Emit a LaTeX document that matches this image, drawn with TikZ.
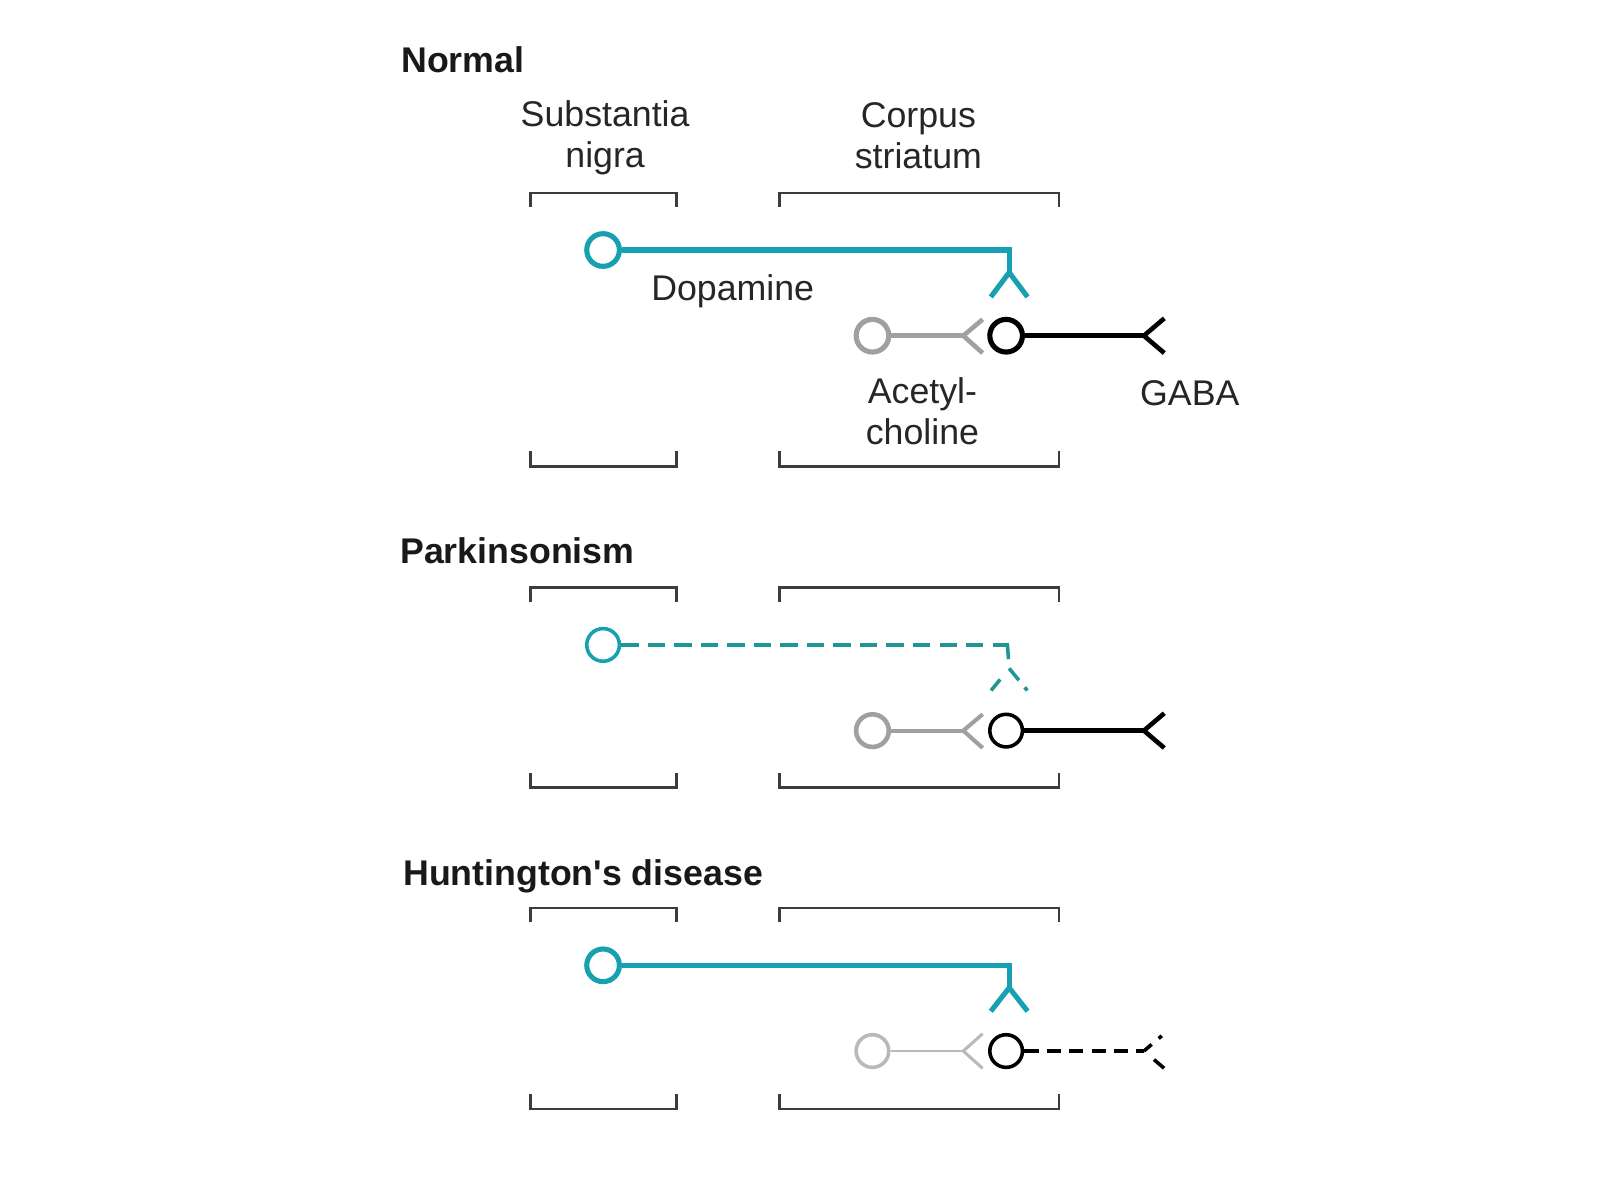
\documentclass[tikz,border=0pt]{standalone}
\usepackage{fontspec}
\setmainfont{Liberation Sans}
\definecolor{tealA}{RGB}{22,160,178}
\definecolor{tealB}{RGB}{30,150,150}
\definecolor{grayA}{RGB}{160,160,160}
\definecolor{grayB}{RGB}{185,185,185}
\definecolor{brkgray}{RGB}{60,60,60}
\begin{document}
\begin{tikzpicture}[x=1pt,y=-1pt,
  lab/.style={font=\fontsize{35}{41}\selectfont, inner sep=0pt, align=center, text=black!85},
  ttl/.style={font=\fontsize{35}{41}\selectfont\bfseries, inner sep=0pt, anchor=west, text=black!90},
  brk/.style={draw=brkgray, line width=2.5pt},
  soma/.style={circle, inner sep=0pt, minimum size=32pt},
  axon/.style={line width=#1, line cap=butt, line join=miter},
]
\useasboundingbox (0,0) rectangle (1568,1176);

% ---------------- Normal ----------------
\node[ttl] (tN) at (393,59) {Normal};
\node[lab] (lSN) at (593,135) {Substantia\\nigra};
\node[lab] (lCS) at (900,133) {Corpus\\striatum};
\draw[brk] (520,203) -- (520,189) -- (663,189) -- (663,203);
\draw[brk] (764,203) -- (764,189) -- (1038,189) -- (1038,203);
\draw[brk] (520,442) -- (520,457) -- (663,457) -- (663,442);
\draw[brk] (764,442) -- (764,457) -- (1038,457) -- (1038,442);

\node[soma, draw=tealA, line width=5pt] (d1) at (591,245) {};
\coordinate (d1c) at (989,245);
\coordinate (d1f) at (989,267);
\coordinate (d1l) at (971,291);
\coordinate (d1r) at (1007,291);
\draw[axon=5pt, draw=tealA] (d1) -- (d1c) -- (d1f);
\draw[axon=5pt, draw=tealA] (d1l) -- (d1f) -- (d1r);
\node[lab] (lDA) at (718,285) {Dopamine};

\node[soma, draw=grayA, line width=5pt] (a1) at (855,329) {};
\coordinate (a1v) at (944,329);
\coordinate (a1u) at (963,313);
\coordinate (a1d) at (963,346);
\draw[axon=4.5pt, draw=grayA] (a1) -- (a1v);
\draw[axon=4.5pt, draw=grayA] (a1u) -- (a1v) -- (a1d);

\node[soma, draw=black, line width=5pt] (g1) at (986,329) {};
\coordinate (g1v) at (1121,329);
\coordinate (g1u) at (1141,312);
\coordinate (g1d) at (1141,346);
\draw[axon=4.5pt, draw=black] (g1) -- (g1v);
\draw[axon=4.5pt, draw=black] (g1u) -- (g1v) -- (g1d);
\node[lab] (lACh) at (904,403) {Acetyl-\\choline};
\node[lab] (lGABA) at (1166,385) {GABA};

% ---------------- Parkinsonism ----------------
\node[ttl] (tP) at (392,540) {Parkinsonism};
\draw[brk] (520,590) -- (520,576) -- (663,576) -- (663,590);
\draw[brk] (764,590) -- (764,576) -- (1038,576) -- (1038,590);
\draw[brk] (520,758) -- (520,772) -- (663,772) -- (663,758);
\draw[brk] (764,758) -- (764,772) -- (1038,772) -- (1038,758);

\node[soma, draw=tealA, line width=3.5pt] (d2) at (591,632) {};
\coordinate (d2c) at (989,632);
\coordinate (d2f) at (989,655);
\coordinate (d2l) at (971,677);
\coordinate (d2r) at (1007,677);
\draw[axon=3.5pt, draw=tealB, dash pattern=on 17pt off 9pt] (d2) -- (d2c);
\draw[axon=3.5pt, draw=tealB, dash pattern=on 14pt off 20pt] ([xshift=-1.75pt]d2c) -- (d2f);
\draw[axon=3.5pt, draw=tealB, dash pattern=on 14pt off 14pt, dash phase=14pt] (d2f) -- (d2l);
\draw[axon=3.5pt, draw=tealB, dash pattern=on 15pt off 9pt on 4pt off 20pt] (d2f) -- (d2r);

\node[soma, draw=grayA, line width=4.5pt] (a2) at (855,716) {};
\coordinate (a2v) at (944,716);
\coordinate (a2u) at (963,700);
\coordinate (a2d) at (963,733);
\draw[axon=4pt, draw=grayA] (a2) -- (a2v);
\draw[axon=4pt, draw=grayA] (a2u) -- (a2v) -- (a2d);

\node[soma, draw=black, line width=3.5pt] (g2) at (986,716) {};
\coordinate (g2v) at (1121,716);
\coordinate (g2u) at (1141,699);
\coordinate (g2d) at (1141,733);
\draw[axon=4.5pt, draw=black] (g2) -- (g2v);
\draw[axon=4.5pt, draw=black] (g2u) -- (g2v) -- (g2d);

% ---------------- Huntington's disease ----------------
\node[ttl] (tH) at (395,859) {Huntington\textquotesingle s disease};
\draw[brk] (520,904) -- (520,890) -- (663,890) -- (663,904);
\draw[brk] (764,904) -- (764,890) -- (1038,890) -- (1038,904);
\draw[brk] (520,1072) -- (520,1087) -- (663,1087) -- (663,1072);
\draw[brk] (764,1072) -- (764,1087) -- (1038,1087) -- (1038,1072);

\node[soma, draw=tealA, line width=5pt] (d3) at (591,946) {};
\coordinate (d3c) at (989,946);
\coordinate (d3f) at (989,968);
\coordinate (d3l) at (971,991);
\coordinate (d3r) at (1007,991);
\draw[axon=5pt, draw=tealA] (d3) -- (d3c) -- (d3f);
\draw[axon=5pt, draw=tealA] (d3l) -- (d3f) -- (d3r);

\node[soma, draw=grayB, line width=3.5pt] (a3) at (855,1030) {};
\coordinate (a3v) at (944,1030);
\coordinate (a3u) at (963,1013);
\coordinate (a3d) at (963,1047);
\draw[axon=2.5pt, draw=grayB] (a3) -- (a3v);
\draw[axon=3pt, draw=grayB] (a3u) -- (a3v) -- (a3d);

\node[soma, draw=black, line width=3.5pt] (g3) at (986,1030) {};
\coordinate (g3v) at (1121,1030);
\coordinate (g3u) at (1141,1013);
\coordinate (g3d) at (1141,1047);
\draw[axon=3.5pt, draw=black, dash pattern=on 14pt off 8pt] (g3) -- (g3v);
\draw[axon=3.5pt, draw=black, dash pattern=on 10pt off 9pt on 4pt off 20pt] (g3v) -- (g3u);
\draw[axon=3.5pt, draw=black, dash pattern=on 13pt off 13pt, dash phase=13pt] (g3v) -- (g3d);
\end{tikzpicture}
\end{document}
